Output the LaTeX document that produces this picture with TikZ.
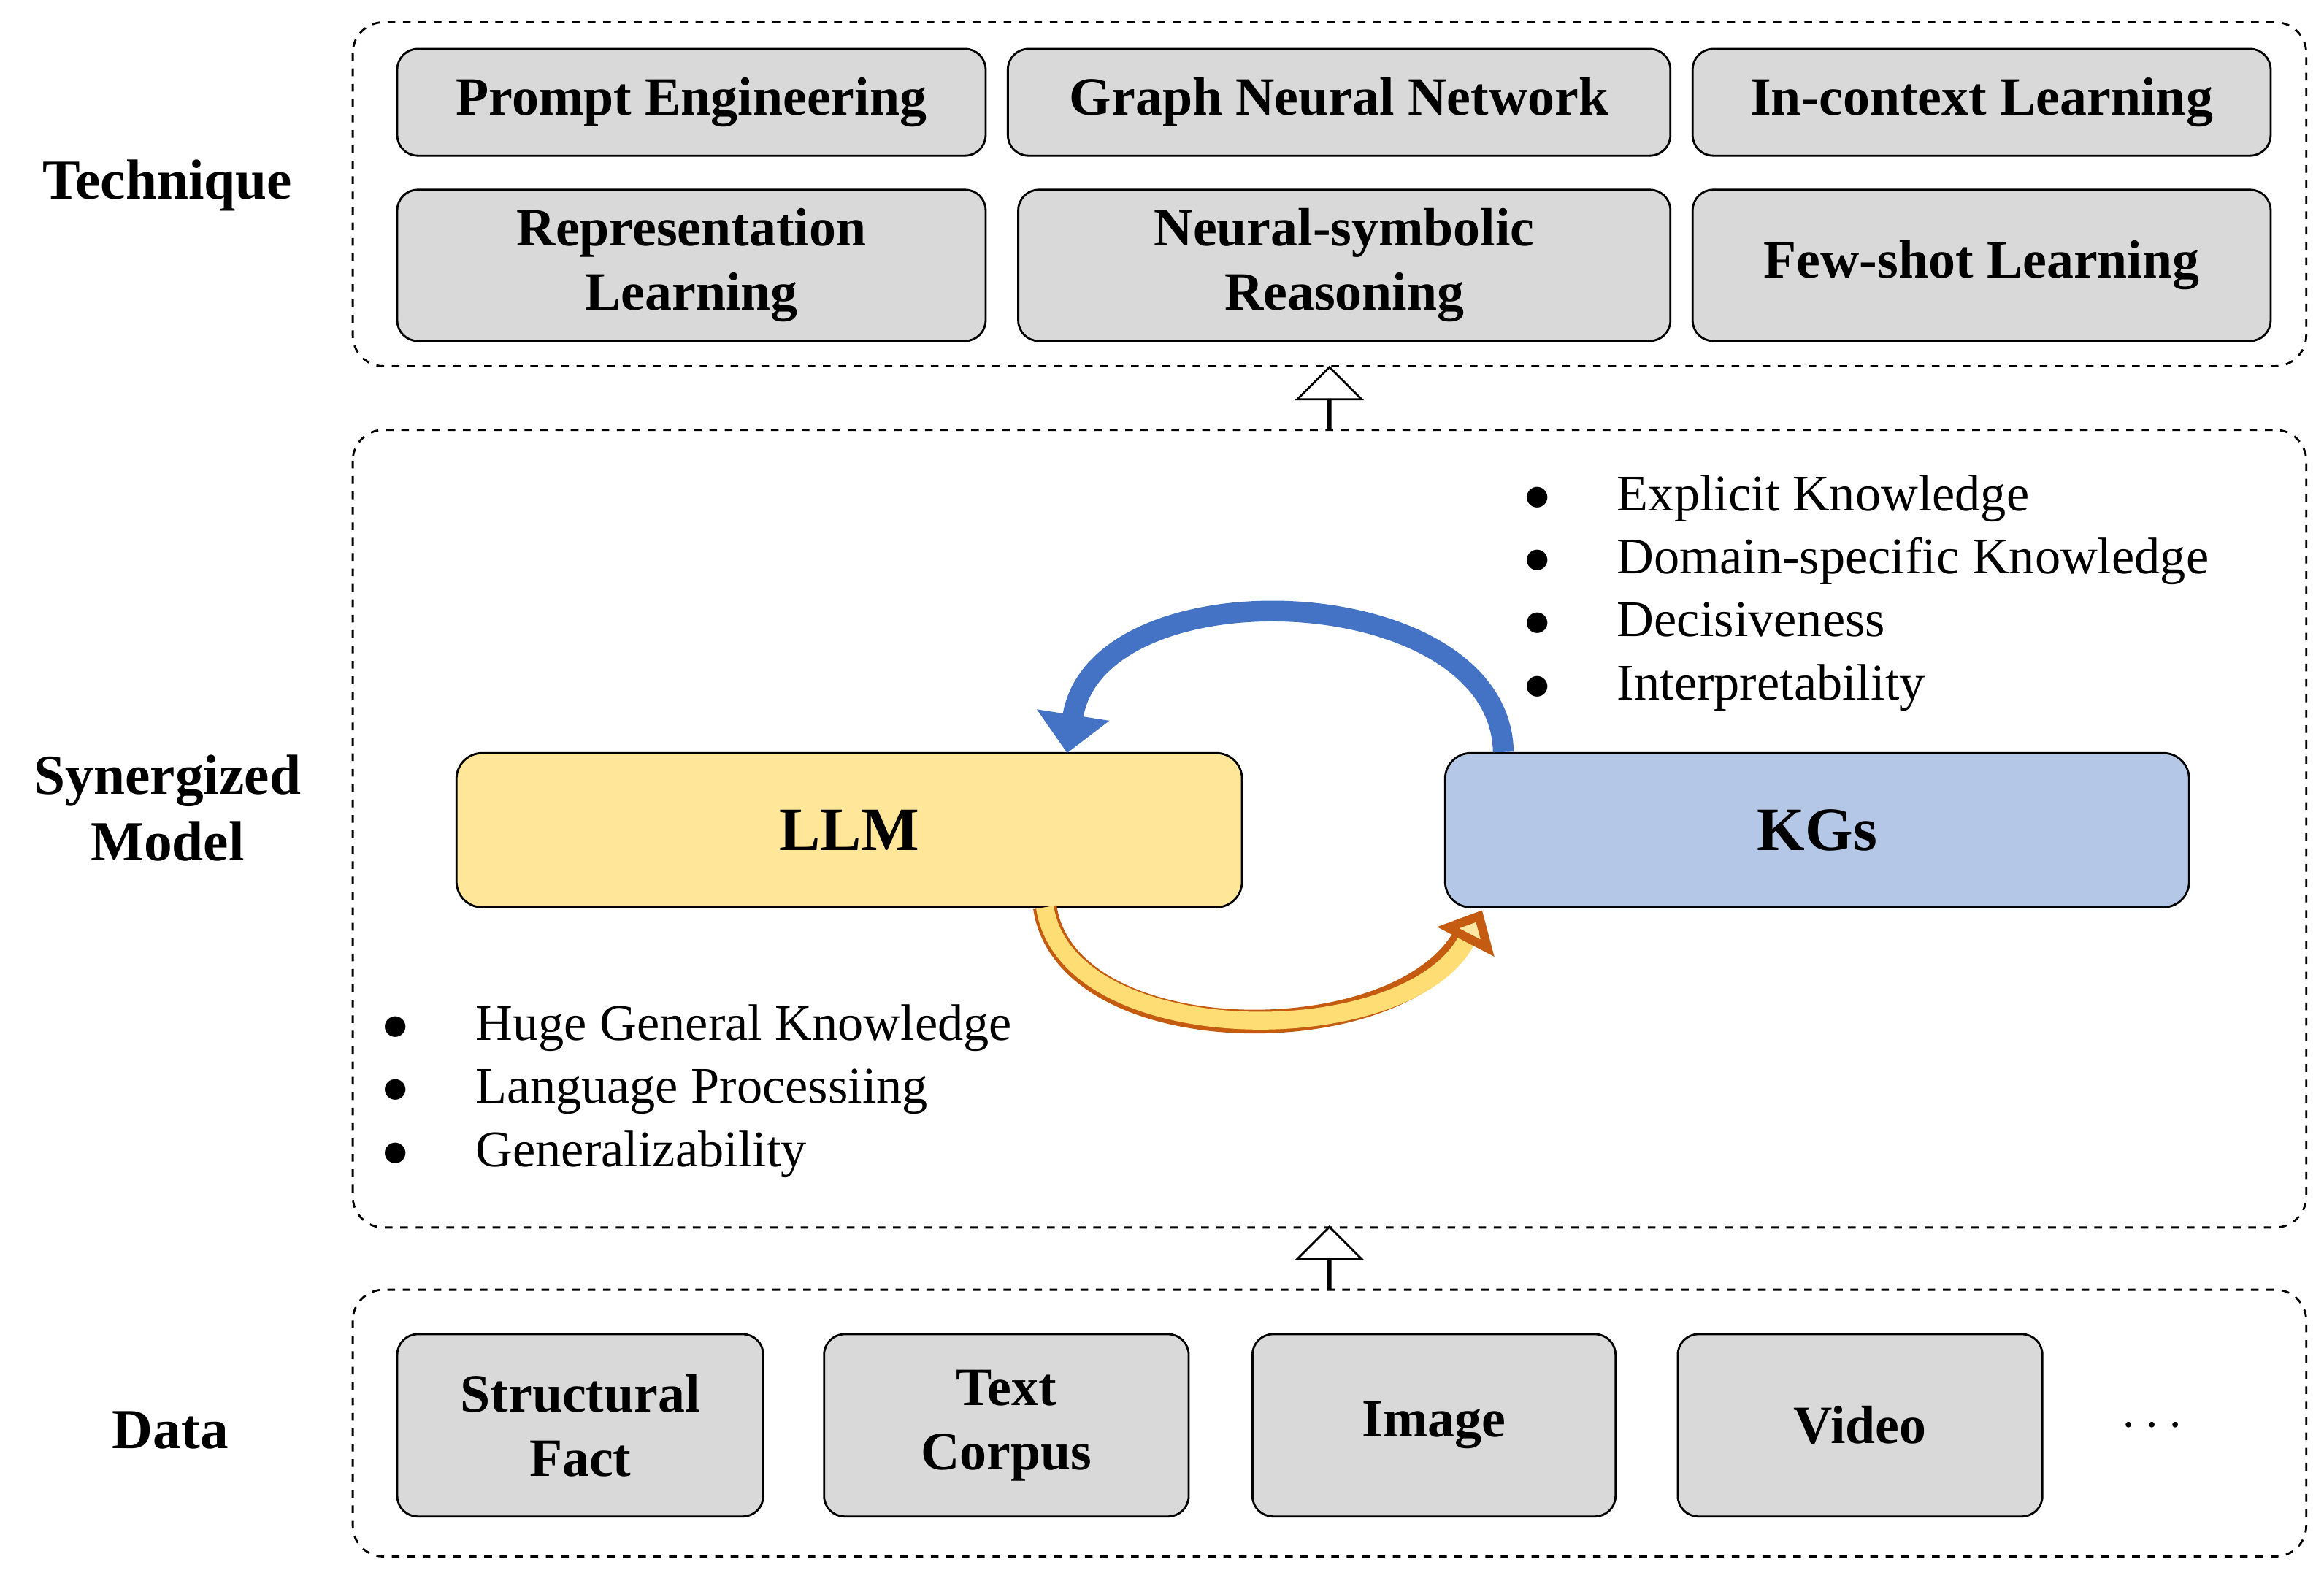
\documentclass[tikz,border=0pt]{standalone}
\usepackage{fontspec}
\setmainfont{Liberation Serif}
\usetikzlibrary{shapes.arrows,arrows.meta}

\definecolor{boxgray}{RGB}{217,217,217}
\definecolor{llmyellow}{RGB}{255,230,153}
\definecolor{kgblue}{RGB}{180,199,231}
\definecolor{arrblue}{RGB}{68,114,196}
\definecolor{arrorange}{RGB}{197,90,17}
\definecolor{arryellow}{RGB}{255,217,102}

\tikzset{
  frame/.style = {draw, dashed, thick, rounded corners=12pt},
  item/.style 2 args = {draw, thick, fill=boxgray, rounded corners=8pt, align=center,
    minimum width=#1*0.0203cm, minimum height=#2*0.0203cm,
    font=\fontsize{21}{25}\selectfont\bfseries},
  side/.style = {align=center, font=\fontsize{22}{26}\selectfont\bfseries},
  model/.style = {draw, thick, rounded corners=10pt, minimum width=530*0.0203cm,
    minimum height=104*0.0203cm, font=\fontsize{24}{28}\selectfont\bfseries},
  pro/.style = {anchor=west, align=left, font=\fontsize{20}{24.5}\selectfont},
  up/.style = {draw, thick, fill=white, single arrow, shape border rotate=90,
    inner sep=0pt, inner ysep=20*0.0203cm, minimum height=42*0.0203cm,
    single arrow head extend=21*0.0203cm},
}

\begin{document}
\begin{tikzpicture}[x=0.0203cm, y=-0.0203cm]
\useasboundingbox (0,0) rectangle (1568,1061);

% technique
\draw[frame] (238,15) rectangle (1556,247);
\node[side] (tech) at (113,125) {Technique};
\node[item={397}{72}] (t1) at (466.5,69) {Prompt Engineering};
\node[item={447}{72}] (t2) at (903.5,69) {Graph Neural Network};
\node[item={390}{72}] (t3) at (1337,69) {In-context Learning};
\node[item={397}{102}] (t4) at (466.5,179) {Representation\\Learning};
\node[item={440}{102}] (t5) at (907,179) {Neural-symbolic\\Reasoning};
\node[item={390}{102}] (t6) at (1337,179) {Few-shot Learning};

\node[up] (a1) at (897,269) {};

% synergized model
\draw[frame] (238,290) rectangle (1556,828);
\node[side] (syn) at (113,545) {Synergized\\Model};
\node[model, fill=llmyellow] (llm) at (573,560) {LLM};
\node[model, fill=kgblue, minimum width=502*0.0203cm] (kg) at (1226,560) {KGs};

\node[pro] (kgp) at (1022,400) {$\bullet$\hspace{1.3em}Explicit Knowledge\\
  $\bullet$\hspace{1.3em}Domain-specific Knowledge\\
  $\bullet$\hspace{1.3em}Decisiveness\\
  $\bullet$\hspace{1.3em}Interpretability};
\node[pro] (llmp) at (252,736) {$\bullet$\hspace{1.3em}Huge General Knowledge\\
  $\bullet$\hspace{1.3em}Language Processiing\\
  $\bullet$\hspace{1.3em}Generalizability};

\draw[arrblue, line width=14*0.0203cm, -{Triangle[width=48*0.0203cm, length=26*0.0203cm]}]
  (kg.north west) ++(40,0) .. controls (1012,390) and (740,380) .. (720,508);
\draw[arrorange, line width=16*0.0203cm] (705,612) .. controls (720,712) and (950,712) .. (990,628);
\draw[arryellow!70!llmyellow, line width=12*0.0203cm, -{Triangle[width=42*0.0203cm, length=24*0.0203cm, fill=arryellow!60!white, color=arrorange]}]
  (705,612) .. controls (720,710) and (950,710) .. (1000,614);

\node[up] (a2) at (897,849) {};

% data
\draw[frame] (238,870) rectangle (1556,1050);
\node[side] (data) at (115,965) {Data};
\node[item={247}{123}] (d1) at (391.5,961.5) {Structural\\Fact};
\node[item={246}{123}] (d2) at (679,961.5) {Text\\Corpus};
\node[item={245}{123}] (d3) at (967.5,961.5) {Image};
\node[item={246}{123}] (d4) at (1255,961.5) {Video};
\node[side] (d5) at (1452,962) {$\cdots$};
\end{tikzpicture}
\end{document}
